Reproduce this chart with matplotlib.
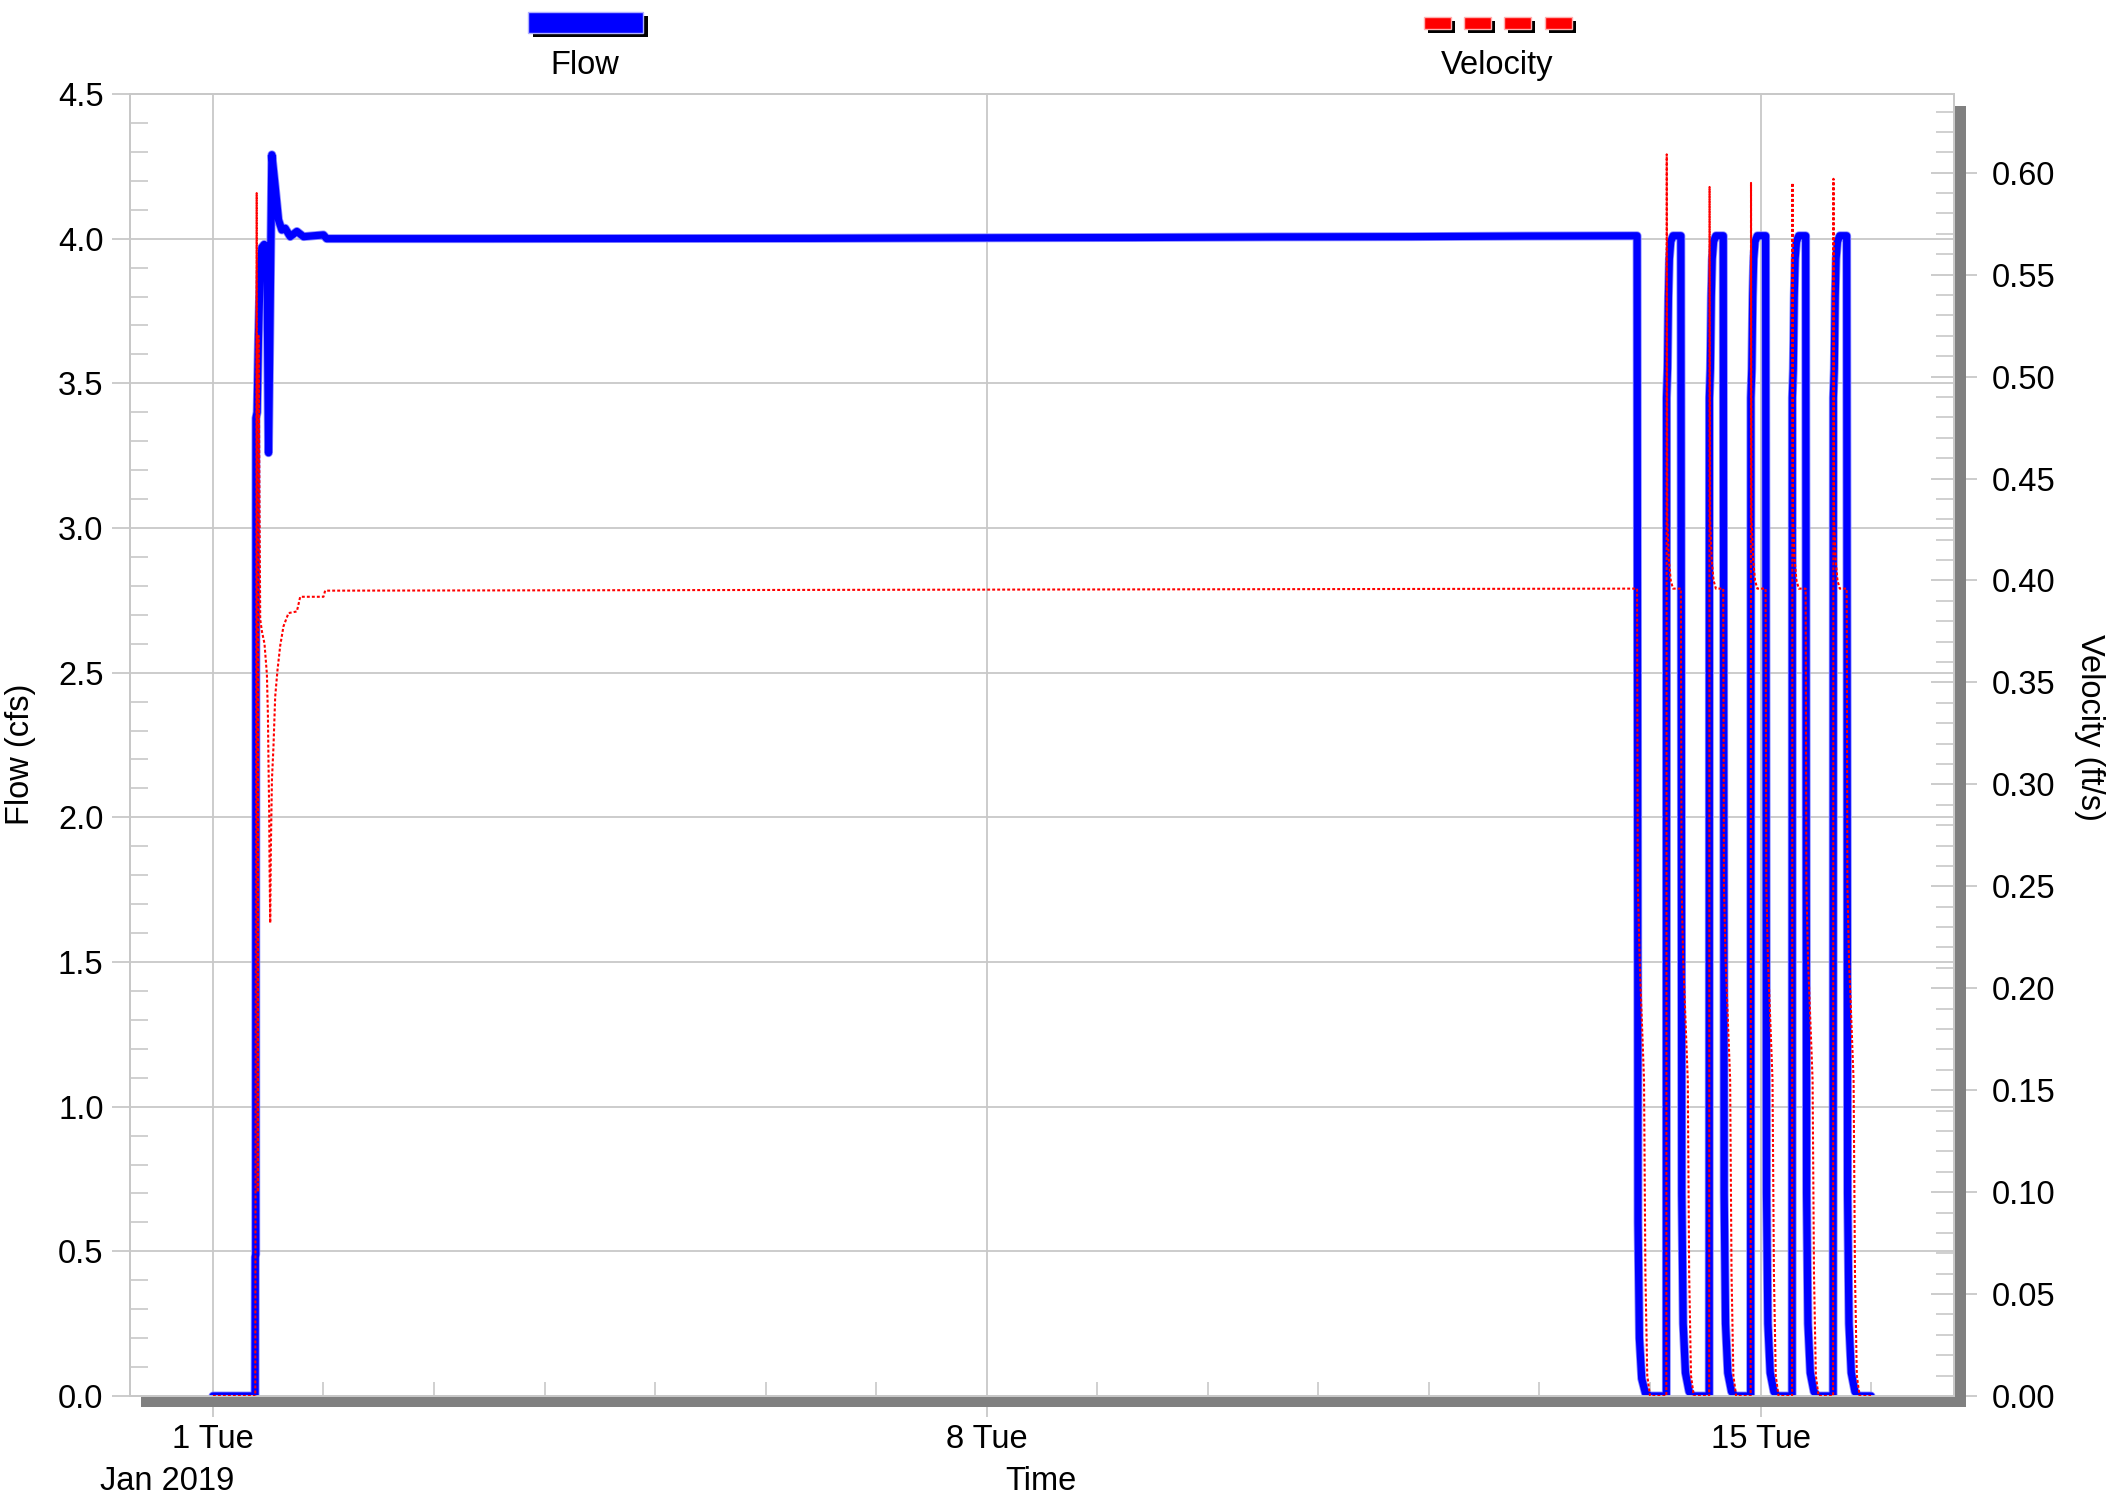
import pandas as pd
import matplotlib
matplotlib.use("Agg")
import matplotlib.pyplot as plt
import matplotlib.dates as mdates
import matplotlib.patheffects as pe
from matplotlib.patches import Rectangle
from matplotlib.ticker import MultipleLocator, FuncFormatter

plt.rcParams['font.family'] = ['Liberation Sans', 'DejaVu Sans']

# link results, hours after 2019-01-01 00:00
flow_hours = [
    0.0, 9.15, 9.2, 9.3, 9.35, 9.6, 9.9, 10.27, 10.63, 11.13, 11.72, 12.07,
    12.8, 13.52, 14.24, 14.97, 15.69, 16.78, 18.23, 19.67, 24.0, 24.7,
    60.0, 130.0, 170.0, 200.0, 230.0, 260.0, 285.0, 309.2,
    309.4, 309.7, 310.2, 311.0, 312.0,
    315.55, 315.6, 315.8, 316.0, 316.2, 316.5, 317.0, 318.7, 318.9, 319.2, 319.7, 320.5, 321.3,
    324.85, 324.9, 325.1, 325.3, 325.5, 325.8, 326.3, 327.9, 328.1, 328.4, 328.9, 329.7, 330.5,
    333.85, 333.9, 334.1, 334.3, 334.5, 334.8, 335.3, 337.1, 337.3, 337.6, 338.1, 338.9, 339.7,
    342.85, 342.9, 343.1, 343.3, 343.5, 343.8, 344.3, 345.8, 346.0, 346.3, 346.8, 347.6, 348.4,
    351.75, 351.8, 352.0, 352.2, 352.4, 352.7, 353.2, 354.7, 354.9, 355.2, 355.7, 356.5, 357.3,
    360.0,
]
flow_cfs = [
    0.0, 0.0, 0.48, 0.49, 3.38, 3.40, 3.67, 3.89, 3.97, 3.98, 3.97, 3.26,
    4.29, 4.18, 4.065, 4.03, 4.036, 4.007, 4.025, 4.007, 4.013, 4.0,
    4.0, 4.001, 4.003, 4.004, 4.006, 4.007, 4.009, 4.01,
    0.6, 0.2, 0.06, 0.01, 0.0,
    0.0, 3.45, 3.55, 3.8, 3.93, 3.99, 4.01, 4.01, 0.7, 0.25, 0.08, 0.015, 0.0,
    0.0, 3.45, 3.55, 3.8, 3.93, 3.99, 4.01, 4.01, 0.7, 0.25, 0.08, 0.015, 0.0,
    0.0, 3.45, 3.55, 3.8, 3.93, 3.99, 4.01, 4.01, 0.7, 0.25, 0.08, 0.015, 0.0,
    0.0, 3.45, 3.55, 3.8, 3.93, 3.99, 4.01, 4.01, 0.7, 0.25, 0.08, 0.015, 0.0,
    0.0, 3.45, 3.55, 3.8, 3.93, 3.99, 4.01, 4.01, 0.7, 0.25, 0.08, 0.015, 0.0,
    0.0,
]

vel_hours = [
    0.0, 9.2, 9.5, 9.75, 9.9, 10.27, 10.64, 11.2, 11.72, 11.94, 12.07, 12.22, 12.29, 12.44,
    12.59, 12.81, 13.15, 13.52, 14.02, 14.61, 15.32, 16.41, 18.23, 18.95, 24.0, 24.37,
    309.2, 309.35, 309.8, 310.3, 310.7, 311.0, 311.4, 312.0,
    315.55, 315.63, 315.75, 316.1, 316.5, 317.0, 318.7, 318.85, 319.2, 319.7, 320.2, 320.5, 320.9, 321.5,
    324.85, 324.93, 325.05, 325.4, 325.8, 326.3, 327.9, 328.05, 328.4, 328.9, 329.4, 329.7, 330.1, 330.7,
    333.85, 333.93, 334.05, 334.4, 334.8, 335.3, 337.1, 337.25, 337.6, 338.1, 338.6, 338.9, 339.3, 339.9,
    342.85, 342.93, 343.05, 343.4, 343.8, 344.3, 345.8, 345.95, 346.3, 346.8, 347.3, 347.6, 348.0, 348.6,
    351.75, 351.83, 351.95, 352.3, 352.7, 353.2, 354.7, 354.85, 355.2, 355.7, 356.2, 356.5, 356.9, 357.5,
    360.0,
]
vel_fps = [
    0.0, 0.0, 0.59, 0.10, 0.52, 0.381, 0.375, 0.369, 0.354, 0.334, 0.310, 0.286, 0.261, 0.232,
    0.2695, 0.302, 0.3186, 0.343, 0.356, 0.368, 0.3775, 0.384, 0.3848, 0.392, 0.392, 0.395,
    0.396, 0.25, 0.21, 0.18, 0.155, 0.06, 0.01, 0.0,
    0.0, 0.609, 0.43, 0.41, 0.40, 0.396, 0.396, 0.25, 0.214, 0.185, 0.155, 0.06, 0.01, 0.0,
    0.0, 0.593, 0.43, 0.41, 0.40, 0.396, 0.396, 0.25, 0.214, 0.185, 0.155, 0.06, 0.01, 0.0,
    0.0, 0.595, 0.43, 0.41, 0.40, 0.396, 0.396, 0.25, 0.214, 0.185, 0.155, 0.06, 0.01, 0.0,
    0.0, 0.595, 0.43, 0.41, 0.40, 0.396, 0.396, 0.25, 0.214, 0.185, 0.155, 0.06, 0.01, 0.0,
    0.0, 0.597, 0.43, 0.41, 0.40, 0.396, 0.396, 0.25, 0.214, 0.185, 0.155, 0.06, 0.01, 0.0,
    0.0,
]

start = pd.Timestamp('2019-01-01')
flow_t = start + pd.to_timedelta(flow_hours, unit='h')
vel_t = start + pd.to_timedelta(vel_hours, unit='h')

W, H = 2112, 1499
FS = 23.5
GRID = '#c8c8c8'
BAR = '#808080'

fig = plt.figure(figsize=(W / 100, H / 100), dpi=100)


def px(x0, y0, x1, y1):
    # pixel box (top-left origin) -> figure fractions
    return x0 / W, 1 - y1 / H, (x1 - x0) / W, (y1 - y0) / H


l, b, w, h = px(130, 94, 1954, 1396)
ax = fig.add_axes([l, b, w, h])
ax2 = ax.twinx()

# flow on the left axis
ax.plot(flow_t, flow_cfs, color='#0000ff', lw=5.2, solid_joinstyle='round',
        solid_capstyle='round', zorder=3,
        path_effects=[pe.Stroke(linewidth=6.4, foreground='#8c8cff'), pe.Normal()])
# velocity on the right axis
ax2.plot(vel_t, vel_fps, color='#ff0000', lw=1.5, linestyle=(0, (1.4, 1.0)), zorder=4)

ax.set_xlim(pd.Timestamp('2018-12-31 06:00'), pd.Timestamp('2019-01-16 18:00'))
ax.set_ylim(0, 4.5)
ax2.set_ylim(0, 0.6386)

ax.xaxis.set_major_locator(mdates.DayLocator(bymonthday=[1, 8, 15]))
ax.xaxis.set_minor_locator(mdates.DayLocator())
ax.xaxis.set_major_formatter(FuncFormatter(
    lambda v, pos: f"{mdates.num2date(v).day} {mdates.num2date(v):%a}"))

ax.yaxis.set_major_locator(MultipleLocator(0.5))
ax.yaxis.set_minor_locator(MultipleLocator(0.1))
ax.yaxis.set_major_formatter(FuncFormatter(lambda v, pos: f"{v:.1f}"))
ax2.yaxis.set_major_locator(MultipleLocator(0.05))
ax2.yaxis.set_minor_locator(MultipleLocator(0.01))
ax2.yaxis.set_major_formatter(FuncFormatter(lambda v, pos: f"{v:.2f}"))

ax.grid(True, which='major', color=GRID, lw=1.3, zorder=0)
ax.set_axisbelow(True)

ax.tick_params(axis='x', which='major', direction='out', length=15, width=1.3,
               color=GRID, labelsize=FS, pad=5)
ax.tick_params(axis='x', which='minor', direction='in', length=10, width=1.2, color=GRID)
ax.tick_params(axis='y', which='major', direction='out', length=13, width=1.3,
               color=GRID, labelsize=FS, pad=6)
ax.tick_params(axis='y', which='minor', direction='in', length=13, width=1.2, color=GRID)
ax2.tick_params(axis='y', which='major', direction='inout', length=33, width=1.3,
                color=GRID, labelsize=FS, pad=11)
ax2.tick_params(axis='y', which='minor', direction='in', length=13, width=1.2, color=GRID)
ax.tick_params(axis='x', which='both', top=False)

for a in (ax, ax2):
    for s in a.spines.values():
        s.set_color(GRID)
        s.set_linewidth(1.3)

# shaded frame edges
fig.add_artist(Rectangle(px(141, 1397, 1966, 1407)[:2], *px(141, 1397, 1966, 1407)[2:],
                         transform=fig.transFigure, facecolor=BAR, edgecolor='none'))
fig.add_artist(Rectangle(px(1955, 106, 1966, 1407)[:2], *px(1955, 106, 1966, 1407)[2:],
                         transform=fig.transFigure, facecolor=BAR, edgecolor='none'))

# legend keys along the top
def key(x0, y0, x1, y1, color, edge, dx=5, dy=4):
    sx = px(x0 + dx, y0 + dy, x1 + dx, y1 + dy)
    fig.add_artist(Rectangle(sx[:2], *sx[2:], transform=fig.transFigure,
                             facecolor='black', edgecolor='none'))
    bx = px(x0, y0, x1, y1)
    fig.add_artist(Rectangle(bx[:2], *bx[2:], transform=fig.transFigure,
                             facecolor=color, edgecolor=edge, lw=1))


key(528, 12, 643, 33, '#0000ff', '#b0b0ff')
for x0 in (1424, 1464, 1504, 1545):
    key(x0, 17, x0 + 27, 29, '#ff0000', '#ffb0b0', dx=4, dy=4)

fig.text(585 / W, 1 - 74 / H, 'Flow', fontsize=FS, ha='center', va='baseline')
fig.text(1497 / W, 1 - 74 / H, 'Velocity', fontsize=FS, ha='center', va='baseline')

fig.text(100 / W, 1 - 1490 / H, 'Jan 2019', fontsize=FS, ha='left', va='baseline')
fig.text(1041 / W, 1 - 1490 / H, 'Time', fontsize=FS, ha='center', va='baseline')
fig.text(20 / W, 1 - 754 / H, 'Flow (cfs)', fontsize=FS, rotation=90,
         ha='center', va='center')
fig.text(2090 / W, 1 - 727 / H, 'Velocity (ft/s)', fontsize=FS, rotation=270,
         ha='center', va='center')

fig.savefig('out.png', dpi=100)
